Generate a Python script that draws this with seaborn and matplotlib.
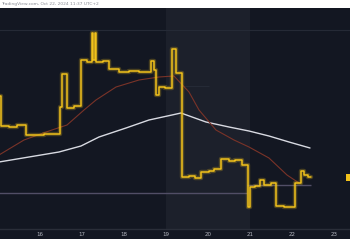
import matplotlib
matplotlib.use("Agg")
import matplotlib.pyplot as plt
import seaborn as sns
import pandas as pd
from matplotlib.patches import Rectangle

# ---- data (days of October 2024, price) ----
price_t = [15.024, 15.071, 15.262, 15.452, 15.667, 16.095, 16.476, 16.524, 16.643, 16.810,
           16.976, 17.119, 17.238, 17.274, 17.310, 17.345, 17.500, 17.643, 17.881, 18.119,
           18.357, 18.643, 18.714, 18.762, 18.833, 18.976, 19.143, 19.238, 19.381, 19.548,
           19.690, 19.833, 20.024, 20.143, 20.310, 20.500, 20.643, 20.810, 20.952, 21.000,
           21.119, 21.238, 21.333, 21.500, 21.619, 21.810, 22.071, 22.214, 22.286, 22.381,
           22.452]
price_v = [0.433, 0.403, 0.402, 0.404, 0.394, 0.395, 0.422, 0.455, 0.421, 0.423,
           0.469, 0.467, 0.496, 0.469, 0.496, 0.467, 0.468, 0.460, 0.457, 0.458,
           0.457, 0.468, 0.459, 0.434, 0.442, 0.441, 0.480, 0.456, 0.352, 0.353,
           0.351, 0.357, 0.358, 0.360, 0.370, 0.368, 0.369, 0.364, 0.322, 0.342,
           0.343, 0.349, 0.344, 0.346, 0.323, 0.322, 0.346, 0.358, 0.354, 0.352,
           0.352]

ma_long_t = [15.024, 15.738, 16.452, 16.976, 17.405, 18.048, 18.595, 19.143, 19.357, 19.952,
             20.500, 20.976, 21.452, 21.929, 22.429]
ma_long_v = [0.367, 0.372, 0.377, 0.383, 0.392, 0.401, 0.409, 0.414, 0.416, 0.407,
             0.402, 0.398, 0.393, 0.387, 0.381]

ma_short_t = [15.024, 15.619, 16.214, 16.643, 17.048, 17.333, 17.810, 18.357, 18.833, 19.190,
              19.548, 19.786, 20.190, 20.619, 20.976, 21.452, 21.881, 22.167]
ma_short_v = [0.374, 0.389, 0.398, 0.404, 0.419, 0.429, 0.442, 0.449, 0.452, 0.453,
              0.437, 0.419, 0.399, 0.389, 0.382, 0.371, 0.354, 0.346]

day_ticks = [16, 17, 18, 19, 20, 21, 22, 23]
day_labels = ["16", "17", "18", "19", "20", "21", "22", "23"]
weekend = (19.0, 21.0)
level_lines = [(0.336, 15.024, 20.929), (0.344, 20.929, 22.452)]
faint_levels = [(0.499, 15.0, 23.4), (0.443, 19.381, 20.024)]
last_price = 0.352
watermark = "TradingView.com, Oct 22, 2024 11:37 UTC+2"

BG = "#131722"
SHADE = "#1c202b"
YEL = "#f2c21b"

sns.set_style("dark")
plt.rcParams["font.family"] = ["DejaVu Sans"]

fig = plt.figure(figsize=(3.5, 2.5), dpi=100, facecolor="white")
fig.patches.append(Rectangle((0, 11 / 250), 1, 231 / 250, transform=fig.transFigure,
                             facecolor=BG, edgecolor="none", zorder=-10))
ax = fig.add_axes([0, 21 / 250, 1, 221 / 250])
ax.set_facecolor(BG)
ax.set_xlim(15.048, 23.381)
ax.set_ylim(0.300, 0.521)

ax.axvspan(*weekend, color=SHADE, lw=0, zorder=0)
for y, x0, x1 in faint_levels:
    ax.hlines(y, x0, x1, color="#252a36", lw=0.8, zorder=1)
for y, x0, x1 in level_lines:
    ax.hlines(y, x0, x1, color="#514e66", lw=1.0, zorder=1)

df_long = pd.DataFrame({"t": ma_long_t, "v": ma_long_v})
df_short = pd.DataFrame({"t": ma_short_t, "v": ma_short_v})
df_price = pd.DataFrame({"t": price_t, "v": price_v})

sns.lineplot(data=df_long, x="t", y="v", ax=ax, color="#d8dae2", lw=1.0, zorder=2)
sns.lineplot(data=df_short, x="t", y="v", ax=ax, color="#7a3328", lw=0.8, zorder=2)
sns.lineplot(data=df_price, x="t", y="v", ax=ax, color=YEL, lw=3.2, alpha=0.25,
             drawstyle="steps-post", zorder=3, estimator=None)
sns.lineplot(data=df_price, x="t", y="v", ax=ax, color=YEL, lw=1.1,
             drawstyle="steps-post", zorder=4, estimator=None)

ax.set_xticks(day_ticks)
ax.set_xticklabels(day_labels)
ax.set_yticks([])
ax.set_xlabel("")
ax.set_ylabel("")
ax.tick_params(axis="x", length=0, pad=2.5, labelsize=4, labelcolor="#b2b5be")
ax.grid(False)
for s in ["top", "left", "right"]:
    ax.spines[s].set_visible(False)
ax.spines["bottom"].set_color("#2a2e39")
ax.spines["bottom"].set_linewidth(1.0)

# last-price marker at right edge (cut off by the frame, as in the reference)
ax.add_patch(Rectangle((23.28, last_price - 0.0035), 0.2, 0.007, facecolor=YEL,
                       edgecolor="none", clip_on=False, zorder=6))

fig.text(0.004, 1 - 4.5 / 250, watermark, fontsize=3.2, color="#8a8d96",
         ha="left", va="center")

fig.savefig("out.png", dpi=100, facecolor="white")
